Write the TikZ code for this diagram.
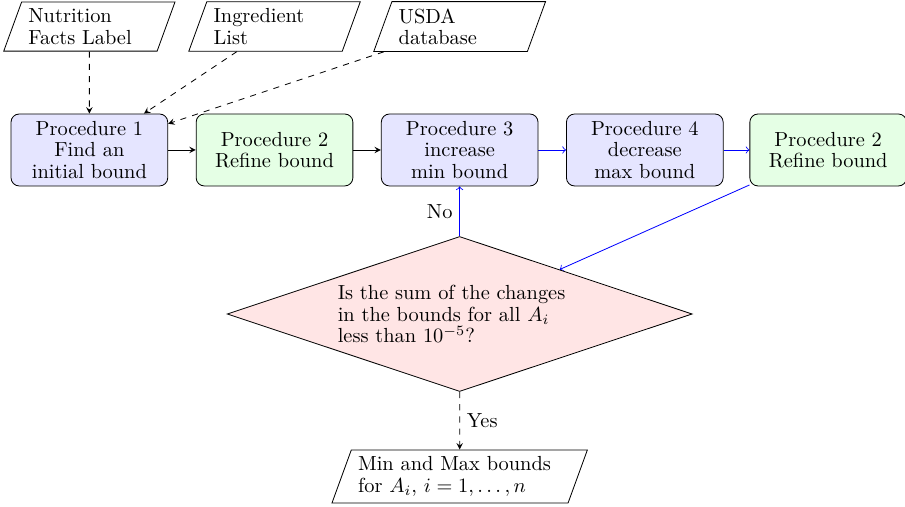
\documentclass[tikz,border=0pt]{standalone}
\usetikzlibrary{shapes.geometric}
\pgfdeclarelayer{bg}
\pgfsetlayers{bg,main}
\tikzstyle{procbox}=[draw=black, fill=blue!10, rounded corners, minimum width=2.7cm, minimum height=1.24cm, align=center, inner sep=2pt]
\tikzstyle{refinebox}=[procbox, fill=green!10]
\tikzstyle{inbox}=[draw=black, shape=trapezium, trapezium left angle=70, trapezium right angle=110, align=left]
\tikzstyle{decide}=[draw=black, fill=red!10, shape=diamond, aspect=3, text width=4.2cm, align=left, inner sep=3pt]
\tikzstyle{feed}=[-stealth, dashed]
\tikzstyle{wire}=[-stealth]
\tikzstyle{bluewire}=[->, blue]

\begin{document}
\begin{tikzpicture}[every node/.style={font=\fontsize{10}{10.5}\selectfont}]
    \useasboundingbox (0, 0) rectangle (15.593, -8.735);

    \node [inbox, text width=2.1cm] (nutr) at (1.54, -0.457) {Nutrition\\Facts Label};
    \node [inbox, text width=2.1cm] (ingr) at (4.73, -0.457) {Ingredient\\List};
    \node [inbox, text width=2.1cm] (usda) at (7.92, -0.457) {USDA\\database};

    \node [procbox] (p1) at (1.54, -2.584) {Procedure 1\\Find an\\initial bound};
    \node [refinebox] (p2) at (4.73, -2.584) {Procedure 2\\Refine bound};
    \node [procbox] (p3) at (7.92, -2.584) {Procedure 3\\increase\\min bound};
    \node [procbox] (p4) at (11.11, -2.584) {Procedure 4\\decrease\\max bound};
    \node [refinebox] (p5) at (14.27, -2.584) {Procedure 2\\Refine bound};

    \node [decide] (check) at (7.92, -5.41) {Is the sum of the changes\\in the bounds for all $A_i$\\less than $10^{-5}$?};
    \node [inbox, text width=3.5cm] (result) at (7.92, -8.21) {Min and Max bounds\\for $A_i$, $i=1,\ldots,n$};

    \begin{pgfonlayer}{bg}
        \draw [feed] (nutr) -- (p1);
        \draw [feed] (ingr) -- (p1);
        \draw [feed] (usda) -- (p1);
        \draw [wire] (p1) -- (p2);
        \draw [wire] (p2) -- (p3);
        \draw [bluewire] (p3) -- (p4);
        \draw [bluewire] (p4) -- (p5);
        \draw [bluewire] (p5) -- (check);
        \draw [bluewire] (check) -- (p3) node[midway, left, text=black] {No};
        \draw [feed] (check) -- (result) node[midway, right] {Yes};
    \end{pgfonlayer}
\end{tikzpicture}
\end{document}
